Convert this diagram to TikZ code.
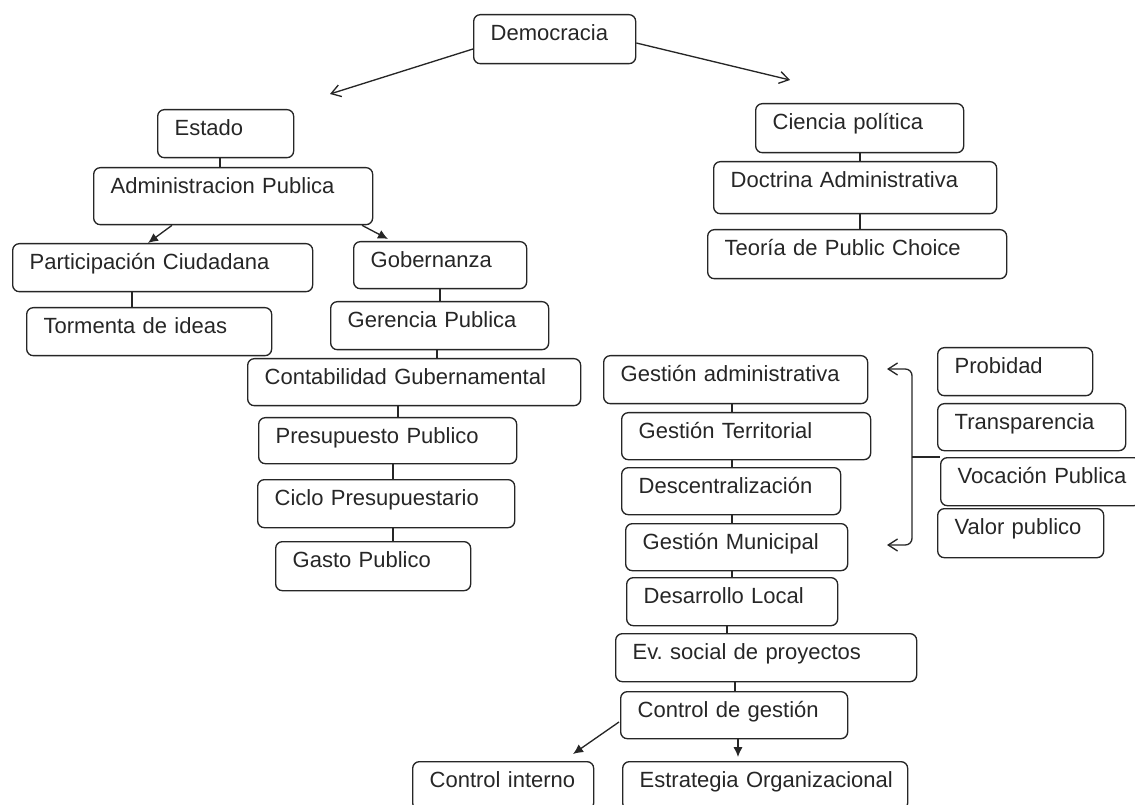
\documentclass[tikz,border=0pt]{standalone}
\usepackage{fontspec}
\setmainfont{Liberation Sans}
\usepackage{tikz}
\usetikzlibrary{calc}
\usetikzlibrary{arrows.meta}
\tikzset{>={Latex[length=7.5pt,width=7pt]}}
\tikzset{
  caja/.style={draw=black!85, text=black!85, line width=1pt, rounded corners=5pt,
    anchor=north west, align=left, inner xsep=12.75pt, inner ysep=0pt,
    text height=19.5pt, font=\fontsize{16.5}{19}\selectfont},
  abierta/.style={-{Straight Barb[length=7pt,width=9pt]}},
}
% caja: nombre, x1, y1, x2, y2, texto (pixeles)
\newcommand{\caja}[6]{%
  \pgfmathsetmacro\anch{(#4-#2-34)*0.75}%
  \pgfmathsetmacro\prof{(#5-#3-26)*0.75}%
  \node[caja, text width=\anch pt, text depth=\prof pt] (#1) at (#2,#3) {\mbox{#6}};%
}
% une: caja de arriba, caja de abajo, desplazamiento desde la izquierda
\newcommand{\une}[3]{\draw ($(#1.south west)+(#3,0)$) coordinate (aux) -- (aux |- #2.north);}

\begin{document}
\begin{tikzpicture}[x=0.75pt,y=-0.75pt,line width=1pt,draw=black!85]
    \useasboundingbox (0,0) rectangle (1135,805);
    % rama izquierda
    \caja{dem}{473}{14}{635}{63}{Democracia}
    \caja{est}{157}{109}{293}{157}{Estado}
    \caja{adm}{93}{167}{372}{224}{Administracion Publica}
    \caja{part}{12}{243}{312}{291}{Participación Ciudadana}
    \caja{torm}{26}{307}{271}{355}{Tormenta de ideas}
    \caja{gob}{353}{241}{526}{288}{Gobernanza}
    \caja{ger}{330}{301}{548}{349}{Gerencia Publica}
    \caja{cont}{247}{358}{580}{405}{Contabilidad Gubernamental}
    \caja{pres}{258}{417}{516}{463}{Presupuesto Publico}
    \caja{ciclo}{257}{479}{514}{527}{Ciclo Presupuestario}
    \caja{gasto}{275}{541}{470}{590}{Gasto Publico}
    % rama derecha
    \caja{cien}{755}{103}{963}{152}{Ciencia política}
    \caja{doc}{713}{161}{996}{213}{Doctrina Administrativa}
    \caja{teo}{707}{229}{1006}{278}{Teoría de Public Choice}
    \caja{gadm}{603}{355}{867}{403}{Gestión administrativa}
    \caja{gter}{621}{412}{870}{459}{Gestión Territorial}
    \caja{desc}{621}{467}{840}{514}{Descentralización}
    \caja{gmun}{625}{523}{847}{570}{Gestión Municipal}
    \caja{dloc}{626}{577}{837}{625}{Desarrollo Local}
    \caja{ev}{615}{633}{916}{681}{Ev.\ social de proyectos}
    \caja{cdg}{620}{691}{847}{738}{Control de gestión}
    \caja{cint}{412}{761}{593}{809}{Control interno}
    \caja{estr}{622}{761}{907}{809}{Estrategia Organizacional}
    % valores
    \caja{prob}{937}{347}{1092}{395}{Probidad}
    \caja{transp}{937}{403}{1125}{450}{Transparencia}
    \caja{voc}{940}{457}{1140}{505}{Vocación Publica}
    \caja{valor}{937}{508}{1103}{557}{Valor publico}

    % flechas
    \coordinate (izq) at (330,94);
    \coordinate (der) at (790,80);
    \draw[abierta] ($(dem.north west)+(0,35)$) -- (izq);
    \draw[abierta] ($(dem.north east)+(0,29)$) -- (der);
    \draw[->] ($(adm.south west)+(79,0)$) -- ($(part.north west)+(136,0)$);
    \draw[->] ($(adm.south west)+(269,0)$) -- ($(gob.north west)+(35,-2)$);
    \draw[->] ($(cdg.north west)+(-1,31)$) -- ($(cint.north west)+(161,-7)$);
    \draw[->] ($(cdg.south west)+(118,0)$) -- ($(estr.north west)+(116,-4)$);

    % lineas
    \une{est}{adm}{63}
    \une{part}{torm}{120}
    \une{gob}{ger}{87}
    \une{ger}{cont}{107}
    \une{cont}{pres}{151}
    \une{pres}{ciclo}{135}
    \une{ciclo}{gasto}{136}
    \une{cien}{doc}{105}
    \une{doc}{teo}{147}
    \une{gadm}{gter}{129}
    \une{gter}{desc}{111}
    \une{desc}{gmun}{111}
    \une{gmun}{dloc}{107}
    \une{dloc}{ev}{101}
    \une{ev}{cdg}{120}

    % llave
    \coordinate (llave) at (912,457);
    \coordinate (fl1) at (887,369);
    \coordinate (fl2) at (887,545);
    \draw[abierta, rounded corners=5pt] (llave) |- (fl1);
    \draw[abierta, rounded corners=5pt] (llave) |- (fl2);
    \draw (voc.north west) -- (llave);
\end{tikzpicture}
\end{document}
